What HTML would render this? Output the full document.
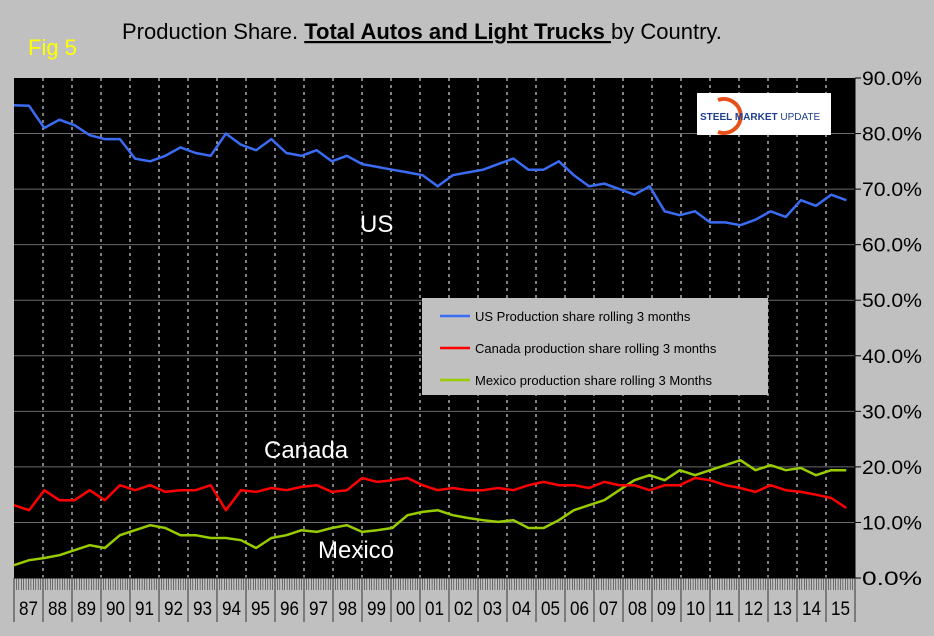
<!DOCTYPE html>
<html><head><meta charset="utf-8"><style>
html,body{margin:0;padding:0;background:#c0c0c0;}
svg{display:block;font-family:"Liberation Sans",Arial,sans-serif;}
</style></head><body>
<svg id="chart" width="934" height="636" viewBox="0 0 934 636">
<rect x="0" y="0" width="934" height="636" fill="#c0c0c0"/>
<text x="28" y="55" font-size="22" fill="#ffff00">Fig 5</text>
<text x="122" y="39" font-size="22" fill="#000">Production Share. <tspan font-weight="bold" text-decoration="underline">Total Autos and Light Trucks </tspan>by Country.</text>
<rect x="14" y="78" width="841" height="500" fill="#000"/>
<g id="grid"></g>
<g id="series"></g>
<g id="axes"></g>
<g>
<rect x="697" y="93" width="134" height="42" fill="#fff"/>
<path d="M718,100 A17,17 0 1 1 718,132" fill="none" stroke="#e8501a" stroke-width="4"/>
<text x="700" y="120" font-size="10" font-weight="bold" fill="#1f3f8f">STEEL <tspan>MARKET</tspan><tspan font-weight="normal"> UPDATE</tspan></text>
</g>
<g>
<rect x="422" y="298" width="346" height="97" fill="#c0c0c0"/>
<line x1="440" y1="316" x2="470" y2="316" stroke="#3a6cf4" stroke-width="2.5"/>
<text x="475" y="321" font-size="13" fill="#000">US Production share rolling 3 months</text>
<line x1="440" y1="348" x2="470" y2="348" stroke="#ff0000" stroke-width="2.5"/>
<text x="475" y="353" font-size="13" fill="#000">Canada production share rolling 3 months</text>
<line x1="440" y1="380" x2="470" y2="380" stroke="#99cc00" stroke-width="2.5"/>
<text x="475" y="385" font-size="13" fill="#000">Mexico production share rolling 3 Months</text>
</g>
<text x="360" y="232" font-size="24" fill="#fff">US</text>
<text x="264" y="458" font-size="24" fill="#fff">Canada</text>
<text x="318" y="558" font-size="24" fill="#fff">Mexico</text>
</svg>
<script>
const categories=["87","88","89","90","91","92","93","94","95","96","97","98","99","00","01","02","03","04","05","06","07","08","09","10","11","12","13","14","15"];
const yTicks=[0,10,20,30,40,50,60,70,80,90];
const usValues=[85.1,85,81,82.5,81.5,79.7,79,79,75.5,75,76,77.5,76.5,76,80,78,77,79,76.5,76,77,75,76,74.5,74,73.5,73,72.5,70.5,72.5,73,73.5,74.5,75.5,73.5,73.5,75,72.5,70.5,71,70,69,70.5,66,65.3,66,64,64,63.5,64.5,66,65,68,67,69,68];
const canadaValues=[13.1,12.2,15.8,14,14,15.8,14,16.7,15.8,16.7,15.5,15.8,15.8,16.7,12.2,15.8,15.5,16.2,15.8,16.4,16.7,15.5,15.8,18,17.3,17.6,18,16.7,15.8,16.2,15.8,15.8,16.2,15.8,16.7,17.3,16.7,16.7,16.2,17.3,16.7,16.7,15.8,16.7,16.7,18,17.6,16.7,16.2,15.5,16.7,15.8,15.5,15,14.4,12.6];
const mexicoValues=[2.3,3.2,3.6,4.1,5,5.9,5.4,7.7,8.6,9.5,9,7.7,7.7,7.2,7.2,6.8,5.4,7.2,7.7,8.6,8.3,9,9.5,8.3,8.6,9,11.3,11.9,12.2,11.3,10.8,10.4,10.1,10.4,9,9,10.4,12.2,13.1,14,15.8,17.6,18.5,17.6,19.4,18.5,19.4,20.3,21.2,19.4,20.3,19.4,19.8,18.5,19.4,19.4];
const NS="http://www.w3.org/2000/svg";
const L=14,R=855,T=78,B=578,yMax=90;
const catW=(R-L)/categories.length;
function yScale(v){return B-(v/yMax)*(B-T);}
function xScale(yearsFromStart){return L+yearsFromStart*catW;}
function mk(tag,attrs,parent){const e=document.createElementNS(NS,tag);for(const k in attrs)e.setAttribute(k,attrs[k]);parent.appendChild(e);return e;}
const grid=document.getElementById('grid'),axes=document.getElementById('axes'),series=document.getElementById('series');
yTicks.forEach(v=>{
  const y=yScale(v);
  if(v>0&&v<yMax){const g=mk('line',{x1:L,x2:R,y1:y,y2:y,stroke:'#6a6a6a','stroke-width':1},grid);
  
  }
  const t=mk('line',{x1:R,x2:R+6,y1:y,y2:y,stroke:'#000'},axes);
  
  
  const lb=mk('text',{x:R+7,y:y+7,'font-size':19,fill:'#000',textLength:60,lengthAdjust:'spacingAndGlyphs'},axes);
  lb.textContent=v.toFixed(1)+'%';
  
  
});
mk('line',{x1:R,x2:R,y1:T,y2:B,stroke:'#000'},axes);
let d='';
for(let i=0;i<=categories.length*12;i++){const x=L+i*catW/12;d+=`M${x.toFixed(1)},${B}V${B+12}`;}
mk('path',{d:d,stroke:'#333','stroke-width':0.6},axes);
categories.forEach((c,i)=>{
  const x0=L+i*catW;
  if(i>0){const g=mk('line',{x1:x0,x2:x0,y1:T,y2:B,stroke:'#fff','stroke-dasharray':'3,4','stroke-width':1},grid);
  
  }
  const s=mk('line',{x1:x0,x2:x0,y1:B,y2:B+44,stroke:'#333'},axes);
  
  
  const lb=mk('text',{x:x0+catW/2,y:B+37,'font-size':19,'text-anchor':'middle',fill:'#000',textLength:19,lengthAdjust:'spacingAndGlyphs'},axes);
  lb.textContent=c;
  
  
});
mk('line',{x1:R,x2:R,y1:B,y2:B+44,stroke:'#333'},axes);
mk('line',{x1:L,x2:R,y1:B,y2:B,stroke:'#000'},axes);
function draw(vals,color,name){
  const n=vals.length;
  const pts=vals.map((v,i)=>xScale(i*28.7/(n-1)).toFixed(1)+','+yScale(v).toFixed(1));
  const p=mk('polyline',{points:pts.join(' '),fill:'none',stroke:color,'stroke-width':2.5,'stroke-linejoin':'round'},series);
  
  
}
draw(usValues,'#3a6cf4','us-line');
draw(mexicoValues,'#99cc00','mexico-line');
draw(canadaValues,'#ff0000','canada-line');
</script>
</body></html>
